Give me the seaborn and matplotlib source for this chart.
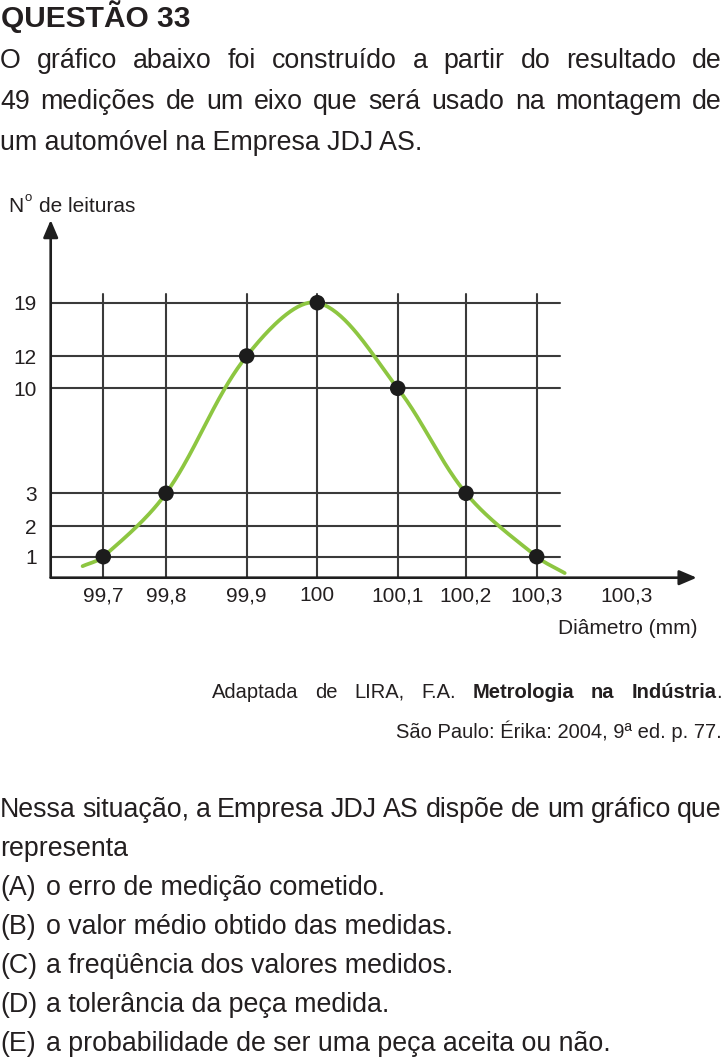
import numpy as np
import matplotlib
matplotlib.use("Agg")
import matplotlib.pyplot as plt
import seaborn as sns
import pandas as pd

# ---------------- data ----------------
diametro = [99.7, 99.8, 99.9, 100.0, 100.1, 100.2, 100.3]
leituras = [1, 3, 12, 19, 10, 3, 1]
# smooth curve through the points, running a little past the first/last ones
curva_x = [99.667, 99.7, 99.8, 99.9, 100.0, 100.1, 100.2, 100.3, 100.331]
curva_y = [0.55, 1, 3, 12, 19, 10, 3, 1, 0.22]
x_ticks = [99.7, 99.8, 99.9, 100.0, 100.1, 100.2, 100.3, 100.4]
x_labels = ["99,7", "99,8", "99,9", "100", "100,1", "100,2", "100,3", "100,3"]
y_ticks = [1, 2, 3, 10, 12, 19]
y_labels = ["1", "2", "3", "10", "12", "19"]

# ---------------- style / layout ----------------
sns.set_style("white")
plt.rcParams["font.family"] = ["Liberation Sans", "DejaVu Sans"]
TXT = "#231f20"
GRID = "#3a3a3a"
GREEN = "#8dc641"
W, H = 724, 1060

# irregular (hand-drawn) axis spacing -> piecewise scale anchors (pixels)
X_ANCH_V = [99.6, 99.7, 99.8, 99.9, 100.0, 100.1, 100.2, 100.3, 100.4, 100.5]
X_ANCH_P = [40.6, 103.3, 166.0, 246.7, 317.3, 397.7, 466.0, 536.7, 627.0, 700.0]
Y_ANCH_V = [0, 1, 2, 3, 10, 12, 19, 30]
Y_ANCH_P = [577.7, 556.7, 526.0, 493.3, 388.3, 356.0, 302.7, 219.0]
Y_H = [577.7 - p for p in Y_ANCH_P]

def fx(v): return np.interp(v, X_ANCH_V, X_ANCH_P)
def ix(p): return np.interp(p, X_ANCH_P, X_ANCH_V)
def fy(v): return np.interp(v, Y_ANCH_V, Y_H)
def iy(p): return np.interp(p, Y_H, Y_ANCH_V)

AX_L, AX_R, AX_T, AX_B = 50.7, 696.7, 220.0, 577.7
fig = plt.figure(figsize=(W / 100, H / 100), dpi=100)
ax = fig.add_axes([AX_L / W, 1 - AX_B / H, (AX_R - AX_L) / W, (AX_B - AX_T) / H])
ax.set_xscale("function", functions=(fx, ix))
ax.set_yscale("function", functions=(fy, iy))
ax.set_xlim(float(ix(AX_L)), float(ix(AX_R)))
ax.set_ylim(0, float(iy(AX_B - AX_T)))
for s in ax.spines.values():
    s.set_visible(False)

# grid
vfrac = (AX_B - 294.0) / (AX_B - AX_T)
hfrac = (560.0 - AX_L) / (AX_R - AX_L)
for xv in diametro:
    ax.axvline(xv, ymin=0, ymax=vfrac, color=GRID, lw=1.5, zorder=1)
for yv in y_ticks:
    ax.axhline(yv, xmin=0, xmax=hfrac, color=GRID, lw=1.5, zorder=1)

# axes with arrows
arr = dict(arrowstyle="-|>,head_length=0.75,head_width=0.32", color="#1e1e1e",
           lw=1.9, shrinkA=0, shrinkB=0, mutation_scale=14)
ax.annotate("", xy=(1, 0), xytext=(0, 0), xycoords="axes fraction",
            arrowprops=arr, annotation_clip=False, zorder=3)
ax.annotate("", xy=(0, 1), xytext=(0, 0), xycoords="axes fraction",
            arrowprops=arr, annotation_clip=False, zorder=3)

# smooth curve: chord-length cubic Hermite spline in the scales' display space
P = np.column_stack([fx(np.array(curva_x)), fy(np.array(curva_y))])
n = len(P)
t = np.concatenate([[0.0], np.cumsum(np.linalg.norm(np.diff(P, axis=0), axis=1))])
M = np.zeros_like(P)
M[0] = (P[1] - P[0]) / (t[1] - t[0])
M[-1] = (P[-1] - P[-2]) / (t[-1] - t[-2])
for i in range(1, n - 1):
    M[i] = (P[i + 1] - P[i - 1]) / (t[i + 1] - t[i - 1])
pts = []
for i in range(n - 1):
    h = t[i + 1] - t[i]
    for s in np.linspace(0, 1, 40, endpoint=False):
        h00 = 2 * s**3 - 3 * s**2 + 1
        h10 = s**3 - 2 * s**2 + s
        h01 = -2 * s**3 + 3 * s**2
        h11 = s**3 - s**2
        pts.append(h00 * P[i] + h10 * h * M[i] + h01 * P[i + 1] + h11 * h * M[i + 1])
pts.append(P[-1])
pts = np.array(pts)
curve = pd.DataFrame({"x": ix(pts[:, 0]), "y": iy(pts[:, 1])})
sns.lineplot(data=curve, x="x", y="y", sort=False, estimator=None, color=GREEN,
             lw=2.7, ax=ax, zorder=4)

pts_df = pd.DataFrame({"d": diametro, "n": leituras})
sns.scatterplot(data=pts_df, x="d", y="n", s=125, color="#1c1c1c", edgecolor="none",
                ax=ax, zorder=5, clip_on=False)

ax.set_xticks(x_ticks)
ax.set_xticklabels(x_labels)
ax.set_yticks(y_ticks)
ax.set_yticklabels(y_labels)
ax.minorticks_off()
ax.tick_params(axis="x", length=0, labelsize=15, pad=6, labelcolor=TXT)
ax.tick_params(axis="y", length=0, labelsize=15, pad=10, labelcolor=TXT)
ax.set_xlabel("")
ax.set_ylabel("")

# ---------------- texts ----------------
renderer = fig.canvas.get_renderer()

def put(s, x, y, size, ha="left", weight="normal"):
    return fig.text(x / W, 1 - y / H, s, fontsize=size, ha=ha, va="baseline",
                    weight=weight, color=TXT)

def justify(words, x0, x1, y, size):
    items = []
    for wd in words:
        segs = [put(tx, 0, y, size, weight=wt) for tx, wt in wd]
        ws = [sg.get_window_extent(renderer).width for sg in segs]
        items.append((segs, ws))
    total = sum(sum(ws) for _, ws in items)
    gap = (x1 - x0 - total) / (len(items) - 1)
    x = x0
    for segs, ws in items:
        for sg, w in zip(segs, ws):
            sg.set_x(x / W)
            x += w
        x += gap

def plain(line):
    return [[(w, "normal")] for w in line.split(" ")]

BODY = 19.3
put("QUESTÃO 33", 1, 26.7, 21.5, weight="bold")
justify(plain("O gráfico abaixo foi construído a partir do resultado de"), 0, 722, 68.3, BODY)
justify(plain("49 medições de um eixo que será usado na montagem de"), 0, 722, 109.3, BODY)
put("um automóvel na Empresa JDJ AS.", 0, 150, BODY)

# axis titles
put("N", 8, 212, 15)
put("o", 24.5, 201, 9.5)
put("de leituras", 39, 212, 15)
put("Diâmetro (mm)", 697, 634, 15, ha="right")

# citation
cit = plain("Adaptada de LIRA, F.A.") + [[("Metrologia", "bold")], [("na", "bold")],
                                         [("Indústria", "bold"), (".", "normal")]]
justify(cit, 212, 722, 698, 14.5)
put("São Paulo: Érika: 2004, 9ª ed. p. 77.", 722, 738, 14.5, ha="right")

justify(plain("Nessa situação, a Empresa JDJ AS dispõe de um gráfico que"), 0, 722, 817, BODY)
put("representa", 0, 856, BODY)
opts = [("(A)", "o erro de medição cometido."),
        ("(B)", "o valor médio obtido das medidas."),
        ("(C)", "a freqüência dos valores medidos."),
        ("(D)", "a tolerância da peça medida."),
        ("(E)", "a probabilidade de ser uma peça aceita ou não.")]
for k, (lab, txt) in enumerate(opts):
    yb = 895 + k * 39
    put(lab, 0, yb, BODY)
    put(txt, 46, yb, BODY)

fig.savefig("out.png", dpi=100, facecolor="white")
